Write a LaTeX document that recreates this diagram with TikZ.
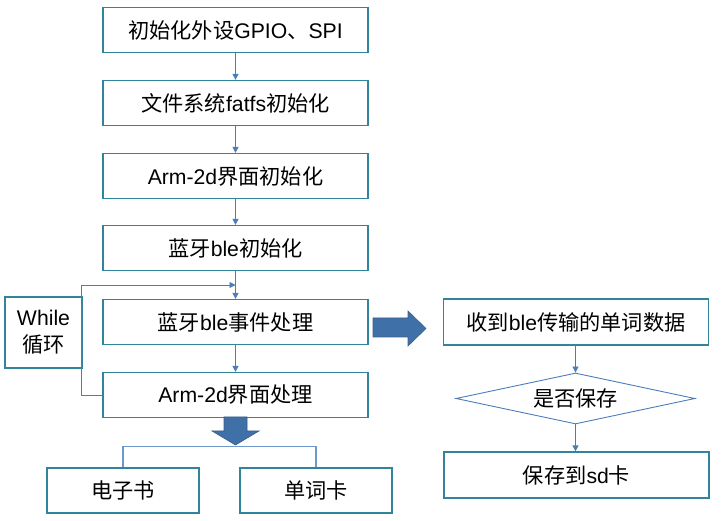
\documentclass[tikz,border=0pt]{standalone}
\usepackage{fontspec}
\setmainfont{Liberation Sans}
\newfontfamily\cjk{Noto Sans CJK SC}
\usetikzlibrary{arrows.meta,shapes.geometric}
\definecolor{boxline}{HTML}{31849B}
\definecolor{connline}{HTML}{4A7EBB}
\definecolor{bigfill}{HTML}{4070A8}
\definecolor{bigline}{HTML}{385D8A}
\tikzset{
  box/.style={draw=boxline,line width=1.2pt,minimum width=265pt,minimum height=45pt,inner sep=0pt,font=\fontsize{21.2}{25}\selectfont},
  smallbox/.style={box,minimum width=152pt},
  conn/.style={draw=connline,line width=0.9pt,-{Triangle[length=6pt,width=6pt]}},
  plainconn/.style={draw=connline!80,line width=1.1pt},
  bigarrow/.style={fill=bigfill,draw=bigline,line width=0.6pt}
}
\begin{document}
\begin{tikzpicture}[x=1pt,y=-1pt]
\useasboundingbox (0,0) rectangle (721,521);
% left column
\node[box] (b1) at (235.5,30) {{\cjk 初始化外设}GPIO{\cjk 、}SPI};
\node[box] (b2) at (235.5,103) {{\cjk 文件系统}fatfs{\cjk 初始化}};
\node[box] (b3) at (235.5,176) {Arm-2d{\cjk 界面初始化}};
\node[box] (b4) at (235.5,248) {{\cjk 蓝牙}ble{\cjk 初始化}};
\node[box] (b5) at (235.5,322) {{\cjk 蓝牙}ble{\cjk 事件处理}};
\node[box] (b6) at (235.5,395) {Arm-2d{\cjk 界面处理}};
\node[box,minimum width=77pt,minimum height=71pt,align=center,font=\fontsize{21.2}{27}\selectfont] (wh) at (43.5,332.5) {While\\{\cjk 循环}};
\node[smallbox] (eb) at (123,490.5) {\cjk 电子书};
\node[smallbox] (dk) at (316,490.5) {\cjk 单词卡};
% right column
\node[box,minimum height=46pt] (r1) at (576,322) {{\cjk 收到}ble{\cjk 传输的单词数据}};
\node[draw=connline,line width=0.9pt,shape=diamond,aspect=4.7,inner sep=0pt,minimum width=239pt,minimum height=51pt,font=\fontsize{21.2}{25}\selectfont] (dm) at (575.5,398.5) {\cjk 是否保存};
\node[box,minimum height=46pt] (r2) at (576.5,475) {{\cjk 保存到}sd{\cjk 卡}};
% connectors
\draw[conn] (b1) -- (b2);
\draw[conn] (b2) -- (b3);
\draw[conn] (b3) -- (b4);
\draw[conn] (b4) -- (b5);
\draw[conn] (b5) -- (b6);
\coordinate (loopend) at (235.5,285);
\draw[conn] (b6.west) -- ++(-21,0) |- (loopend);
\draw[conn] (r1.south -| dm.north) -- (dm.north);
\draw[conn] (dm.south) -- (r2.north -| dm.south);
\draw[plainconn] (eb.north) -- ++(0,-21) -| (dk.north);
% big arrows
\draw[bigarrow] (373,318) -- (408,318) -- (408,311) -- (426,328.5) -- (408,346) -- (408,337) -- (373,337) -- cycle;
\draw[bigarrow] (224,417) -- (247,417) -- (247,431) -- (259,431) -- (235.5,445) -- (212,431) -- (224,431) -- cycle;
\end{tikzpicture}
\end{document}
